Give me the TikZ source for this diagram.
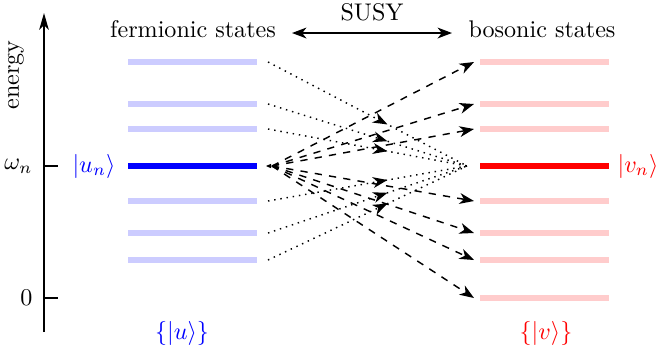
\documentclass[tikz,border=0pt]{standalone}
\usepackage{amsmath,amssymb}
\usepackage{xcolor}
\usetikzlibrary{arrows.meta,decorations.markings}
\tikzset{
  axis/.style={draw=black, line width=0.6pt, -{Stealth[length=7pt,width=4pt,inset=2pt]}},
  tick/.style={draw=black, line width=0.6pt},
  ferm/.style={draw=blue!20, line width=2.5pt},
  bos/.style={draw=red!20, line width=2.5pt},
  fermn/.style={draw=blue, line width=2.5pt},
  bosn/.style={draw=red, line width=2.5pt},
  susy/.style={draw=black, line width=0.6pt,
    {Stealth[length=6pt,width=4.5pt,inset=1.8pt]}-{Stealth[length=6pt,width=4.5pt,inset=1.8pt]}},
  push/.style={draw=black, dashed, line width=0.6pt, -{Stealth[length=6pt,width=4.5pt,inset=1.8pt]}},
  pull/.style={draw=black, dotted, line width=0.6pt, postaction={decorate},
    decoration={markings, mark=at position 0.6 with {\arrow{Stealth[length=6pt,width=4.5pt,inset=1.8pt]}}}},
  lab/.style={text=black, font=\normalsize},
  labu/.style={text=blue, font=\normalsize},
  labv/.style={text=red, font=\normalsize},
}
\begin{document}
\begin{tikzpicture}[x=0.415pt,y=-0.415pt]
  \useasboundingbox (0,0) rectangle (660,356);

  % energy axis
  \coordinate (bot) at (44,332);
  \coordinate (top) at (44,13);
  \coordinate (wn) at (44,166);
  \coordinate (z) at (44,298);
  \draw[axis] (bot) -- (top);
  \draw[tick] (wn) -- ++(14,0);
  \draw[tick] (z) -- ++(14,0);
  \node[lab,rotate=90] (en) at (16,75) {energy};
  \node[lab,left] (wlab) at (41,166) {$\omega_n$};
  \node[lab,left] (zlab) at (41,298) {$0$};

  % titles
  \node[lab,anchor=base] (ftit) at (193,37) {fermionic states};
  \node[lab,anchor=base] (btit) at (542,37) {bosonic states};
  \coordinate (sl) at (292,33);
  \coordinate (sr) at (452,33);
  \draw[susy] (sl) -- (sr) node[lab,midway,above,yshift=1.5pt] (slab) {SUSY};

  % fermionic levels
  \foreach \i/\y in {1/62,2/104,3/129,5/201,6/233,7/260} {
    \draw[ferm] (128,\y) -- (257,\y);
    \coordinate (fo\i) at (268,\y);
  }
  \draw[fermn] (128,166) -- (257,166);
  \coordinate (uo) at (272,166);

  % bosonic levels
  \foreach \i/\y in {1/62,2/104,3/129,5/201,6/233,7/260,8/298} {
    \draw[bos] (480,\y) -- (609,\y);
    \coordinate (bi\i) at (474,\y);
  }
  \draw[bosn] (480,166) -- (609,166);
  \coordinate (vi) at (467,166);

  % labels
  \node[labu] (un) at (94,166) {$|u_n\rangle$};
  \node[labv] (vn) at (638,166) {$|v_n\rangle$};
  \node[labu] (uset) at (182,333) {$\{|u\rangle\}$};
  \node[labv] (vset) at (546,333) {$\{|v\rangle\}$};

  % maps
  \foreach \i in {1,2,3,5,6,7,8} \draw[push] (uo) -- (bi\i);
  \foreach \i in {1,2,3,5,6,7} \draw[pull] (fo\i) -- (vi);
  \fill (266,166) -- (271,163.8) -- (271,168.2) -- cycle;
\end{tikzpicture}
\end{document}
